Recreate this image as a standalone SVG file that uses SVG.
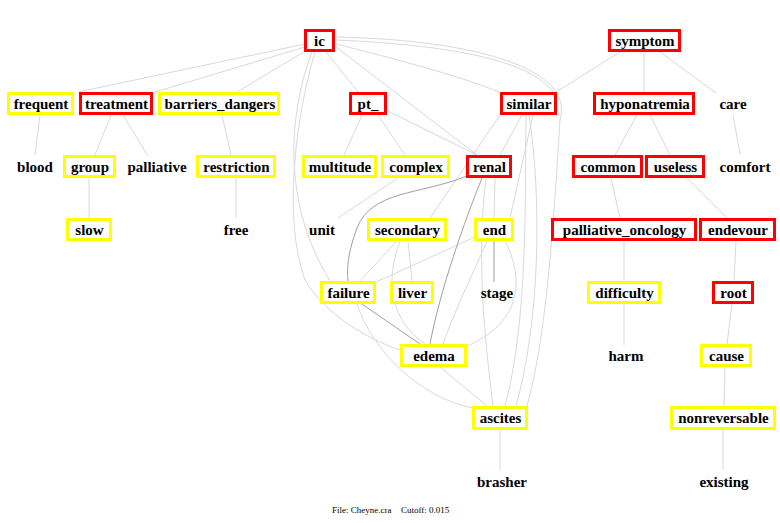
<svg xmlns="http://www.w3.org/2000/svg" width="780" height="523" viewBox="0 0 780 523">
<style>
.bg{fill:#ffffff}
.r{fill:#ffffff;stroke:#ff0000;stroke-width:3}
.y{fill:#ffffff;stroke:#ffff00;stroke-width:3}
.t{font-family:"Liberation Serif","Times New Roman",serif;font-size:15px;font-weight:bold;fill:#000000;text-anchor:middle}
.f{font-family:"Liberation Serif","Times New Roman",serif;font-size:9px;fill:#000000}
.e{fill:none;stroke:#d9d9d9;stroke-width:1}
.d{fill:none;stroke:#a0a0a0;stroke-width:1}
</style>
<rect class="bg" x="0" y="0" width="780" height="523"/>
<g id="connectors">
<path class="e" d="M305,44 L78,92"/>
<path class="e" d="M305,47 L155,92"/>
<path class="e" d="M307,50 L237,92"/>
<path class="e" d="M326,52 L358,92"/>
<path class="e" d="M336,47 L477,155"/>
<path class="e" d="M336,44 C420,65 470,80 499,92"/>
<path class="e" d="M336,40 C450,45 530,60 553,92"/>
<path class="e" d="M336,37 C480,40 575,70 560,120 C552,250 545,340 527,406"/>
<path class="e" d="M312,52 C290,110 280,200 330,281"/>
<path class="e" d="M315,52 C295,120 283,220 305,280 C325,315 370,340 400,350"/>
<path class="e" d="M40,115 L35,155"/>
<path class="e" d="M111,115 L95,155"/>
<path class="e" d="M123,115 L148,156"/>
<path class="e" d="M222,115 L231,155"/>
<path class="e" d="M89,178 L89,218"/>
<path class="e" d="M236,178 L236,218"/>
<path class="e" d="M362,115 L344,155"/>
<path class="e" d="M378,115 L405,155"/>
<path class="e" d="M388,111 L477,155"/>
<path class="e" d="M398,178 L338,218"/>
<path class="e" d="M620,52 L556,92"/>
<path class="e" d="M500,115 L430,218"/>
<path class="e" d="M522,115 L500,155"/>
<path class="e" d="M533,115 L510,218"/>
<path class="e" d="M529,115 C542,200 540,320 516,406"/>
<path class="e" d="M526,115 C525,200 528,320 505,406"/>
<path class="e" d="M495,178 L494,218"/>
<path class="e" d="M475,237 L376,282"/>
<path class="e" d="M487,241 C470,280 455,310 443,344"/>
<path class="e" d="M505,241 C525,280 522,325 462,348"/>
<path class="e" d="M397,241 L360,281"/>
<path class="e" d="M400,241 C385,280 390,320 425,344"/>
<path class="e" d="M408,241 L412,281"/>
<path class="e" d="M357,304 C372,350 420,398 473,408"/>
<path class="e" d="M440,367 L487,406"/>
<path class="e" d="M486,178 C476,260 485,340 493,406"/>
<path class="e" d="M733,115 L740,154"/>
<path class="e" d="M660,52 L716,93"/>
<path class="e" d="M644,52 L644,92"/>
<path class="e" d="M637,115 L615,155"/>
<path class="e" d="M650,115 L670,155"/>
<path class="e" d="M611,178 L620,218"/>
<path class="e" d="M687,178 L727,218"/>
<path class="e" d="M624,241 L624,281"/>
<path class="e" d="M736,241 L734,281"/>
<path class="e" d="M624,304 L624,345"/>
<path class="e" d="M732,304 L727,344"/>
<path class="e" d="M725,367 L724,406"/>
<path class="e" d="M723,430 L723,470"/>
<path class="e" d="M500,430 L500,470"/>
<path class="d" d="M467,176 C420,195 372,190 357,228 C347,255 347,270 348,281"/>
<path class="d" d="M482,178 C465,220 440,290 430,344"/>
<path class="d" d="M362,304 L420,344"/>
<path class="d" d="M494,241 L494,282"/>
</g>
<g id="n-ic"><rect class="r" x="305.5" y="30.5" width="28" height="20"/><text class="t" x="319.5" y="46">ic</text></g>
<g id="n-symptom"><rect class="r" x="609.5" y="30.5" width="70" height="20"/><text class="t" x="645" y="46">symptom</text></g>
<g id="n-frequent"><rect class="y" x="8.5" y="93.5" width="64" height="20"/><text class="t" x="41" y="109">frequent</text></g>
<g id="n-treatment"><rect class="r" x="80.5" y="93.5" width="71" height="20"/><text class="t" x="116.5" y="109">treatment</text></g>
<g id="n-barriers_dangers"><rect class="y" x="159.5" y="93.5" width="119" height="20"/><text class="t" x="220" y="109">barriers_dangers</text></g>
<g id="n-pt_"><rect class="r" x="350.5" y="93.5" width="35" height="20"/><text class="t" x="368" y="109">pt_</text></g>
<g id="n-similar"><rect class="r" x="501.5" y="93.5" width="54" height="20"/><text class="t" x="529" y="109">similar</text></g>
<g id="n-hyponatremia"><rect class="r" x="594.5" y="93.5" width="99" height="20"/><text class="t" x="645" y="109">hyponatremia</text></g>
<g id="n-care"><text class="t" x="733" y="109">care</text></g>
<g id="n-blood"><text class="t" x="35" y="172">blood</text></g>
<g id="n-group"><rect class="y" x="64.5" y="156.5" width="50" height="20"/><text class="t" x="90" y="172">group</text></g>
<g id="n-palliative"><text class="t" x="157" y="172">palliative</text></g>
<g id="n-restriction"><rect class="y" x="197.5" y="156.5" width="77" height="20"/><text class="t" x="236.5" y="172">restriction</text></g>
<g id="n-multitude"><rect class="y" x="303.5" y="156.5" width="72" height="20"/><text class="t" x="340" y="172">multitude</text></g>
<g id="n-complex"><rect class="y" x="382.5" y="156.5" width="66" height="20"/><text class="t" x="416" y="172">complex</text></g>
<g id="n-renal"><rect class="r" x="467.5" y="156.5" width="43" height="20"/><text class="t" x="489.5" y="172">renal</text></g>
<g id="n-common"><rect class="r" x="573.5" y="156.5" width="68" height="20"/><text class="t" x="608" y="172">common</text></g>
<g id="n-useless"><rect class="r" x="646.5" y="156.5" width="57" height="20"/><text class="t" x="675.5" y="172">useless</text></g>
<g id="n-comfort"><text class="t" x="745" y="172">comfort</text></g>
<g id="n-slow"><rect class="y" x="67.5" y="219.5" width="43" height="20"/><text class="t" x="89.5" y="235">slow</text></g>
<g id="n-free"><text class="t" x="236" y="235">free</text></g>
<g id="n-unit"><text class="t" x="322" y="235">unit</text></g>
<g id="n-secondary"><rect class="y" x="368.5" y="219.5" width="77" height="20"/><text class="t" x="407.5" y="235">secondary</text></g>
<g id="n-end"><rect class="y" x="475.5" y="219.5" width="37" height="20"/><text class="t" x="494.5" y="235">end</text></g>
<g id="n-palliative_oncology"><rect class="r" x="552.5" y="219.5" width="143" height="20"/><text class="t" x="624.5" y="235">palliative_oncology</text></g>
<g id="n-endevour"><rect class="r" x="700.5" y="219.5" width="74" height="20"/><text class="t" x="738" y="235">endevour</text></g>
<g id="n-failure"><rect class="y" x="321.5" y="282.5" width="53" height="20"/><text class="t" x="348.5" y="298">failure</text></g>
<g id="n-liver"><rect class="y" x="391.5" y="282.5" width="41" height="20"/><text class="t" x="412.5" y="298">liver</text></g>
<g id="n-stage"><text class="t" x="497" y="298">stage</text></g>
<g id="n-difficulty"><rect class="y" x="588.5" y="282.5" width="71" height="20"/><text class="t" x="624.5" y="298">difficulty</text></g>
<g id="n-root"><rect class="r" x="713.5" y="282.5" width="39" height="20"/><text class="t" x="733.5" y="298">root</text></g>
<g id="n-edema"><rect class="y" x="401.5" y="345.5" width="64" height="20"/><text class="t" x="434" y="361">edema</text></g>
<g id="n-harm"><text class="t" x="626" y="361">harm</text></g>
<g id="n-cause"><rect class="y" x="701.5" y="345.5" width="49" height="20"/><text class="t" x="726.5" y="361">cause</text></g>
<g id="n-ascites"><rect class="y" x="473.5" y="407.5" width="53" height="21"/><text class="t" x="500.5" y="423">ascites</text></g>
<g id="n-nonreversable"><rect class="y" x="671.5" y="407.5" width="103" height="21"/><text class="t" x="723.5" y="423">nonreversable</text></g>
<g id="n-brasher"><text class="t" x="502" y="487">brasher</text></g>
<g id="n-existing"><text class="t" x="724" y="487">existing</text></g>
<text class="f" x="332" y="513">File: Cheyne.cra</text>
<text class="f" x="401" y="513">Cutoff: 0.015</text>
</svg>
